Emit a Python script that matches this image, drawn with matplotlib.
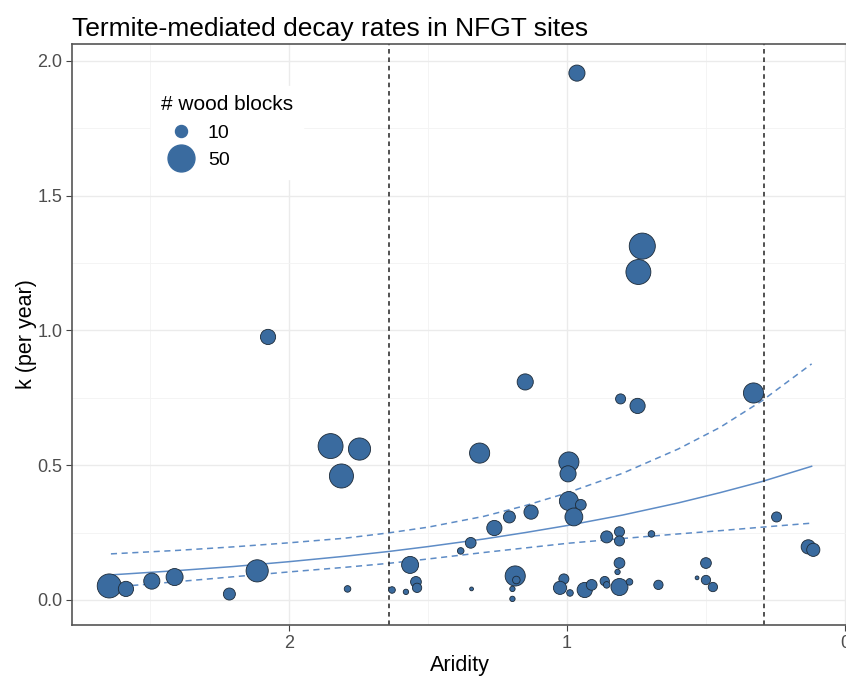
import matplotlib
matplotlib.use("Agg")
import matplotlib.pyplot as plt
from matplotlib.lines import Line2D
import matplotlib.ticker as ticker

plt.rcParams['font.family'] = ['Liberation Sans', 'DejaVu Sans']

# site data: aridity, decay rate k (per year), number of wood blocks
aridity = [0.964, 0.729, 0.743, 2.075, 1.150, 0.807, 0.746, 0.329, 1.850, 1.746,
           1.811, 1.314, 0.993, 0.996, 0.993, 0.950, 0.975, 1.129, 1.207, 1.261,
           1.346, 1.382, 1.564, 1.543, 1.539, 1.629, 1.579, 1.343, 1.186, 1.182,
           1.196, 1.196, 1.011, 1.025, 0.989, 0.936, 0.911, 0.864, 0.857, 0.811,
           0.775, 0.857, 0.811, 0.811, 0.696, 0.811, 0.818, 0.671, 0.500, 0.500,
           0.475, 0.532, 0.246, 0.132, 0.114, 2.646, 2.586, 2.493, 2.411, 2.214,
           2.114, 1.789]
k_rate = [1.955, 1.313, 1.217, 0.976, 0.809, 0.746, 0.720, 0.768, 0.571, 0.560,
          0.460, 0.545, 0.512, 0.468, 0.367, 0.353, 0.308, 0.326, 0.308, 0.267,
          0.212, 0.182, 0.130, 0.067, 0.045, 0.037, 0.030, 0.041, 0.089, 0.074,
          0.041, 0.004, 0.078, 0.045, 0.026, 0.037, 0.056, 0.070, 0.056, 0.048,
          0.067, 0.234, 0.253, 0.219, 0.245, 0.137, 0.104, 0.056, 0.137, 0.074,
          0.048, 0.082, 0.308, 0.197, 0.186, 0.052, 0.041, 0.070, 0.085, 0.022,
          0.108, 0.041]
n_blocks = [18, 47, 43, 16, 18, 7, 16, 28, 43, 34,
            40, 28, 28, 18, 25, 8, 22, 14, 10, 16,
            8, 3, 20, 8, 6, 3, 2, 1, 28, 4,
            2, 2, 7, 12, 3, 16, 8, 6, 3, 20,
            3, 10, 7, 7, 3, 8, 2, 6, 8, 6,
            6, 1, 7, 14, 12, 40, 16, 18, 20, 10,
            34, 3]

# fitted model and confidence band
fit_x = [2.64, 2.4, 2.2, 2.0, 1.8, 1.64, 1.5, 1.3, 1.15, 1.0, 0.8, 0.6, 0.45, 0.3, 0.12]
fit_k = [0.093, 0.109, 0.124, 0.142, 0.162, 0.180, 0.198, 0.226, 0.250, 0.276,
         0.315, 0.360, 0.398, 0.439, 0.496]
upper_k = [0.171, 0.184, 0.197, 0.212, 0.229, 0.249, 0.270, 0.310, 0.350, 0.397,
           0.470, 0.560, 0.640, 0.738, 0.876]
lower_k = [0.047, 0.068, 0.086, 0.104, 0.121, 0.136, 0.152, 0.176, 0.193, 0.210,
           0.228, 0.245, 0.257, 0.270, 0.285]

cutoffs = [1.639, 0.293]
legend_sizes = [10, 50]

size_scale = 7.5
fill = "#3a6b9f"
edge = "#1c2a38"
line_col = "#5e8cc6"

fig = plt.figure(figsize=(8.46, 6.79), dpi=100)
ax = fig.add_axes([0.0851, 0.0795, 0.916, 0.8557])

ax.scatter(aridity, k_rate, s=[n * size_scale for n in n_blocks], c=fill,
           edgecolors=edge, linewidths=0.6, zorder=3)

ax.plot(fit_x, fit_k, color=line_col, lw=1.1, zorder=2)
ax.plot(fit_x, upper_k, color=line_col, lw=1.1, ls=(0, (4, 3)), zorder=2)
ax.plot(fit_x, lower_k, color=line_col, lw=1.1, ls=(0, (4, 3)), zorder=2)

for c in cutoffs:
    ax.axvline(c, color="#222222", lw=1.1, ls=(0, (3, 2.5)), zorder=2)

ax.set_xlim(2.78, -0.007)
ax.set_ylim(-0.093, 2.063)
ax.xaxis.set_major_locator(ticker.FixedLocator([2, 1, 0]))
ax.xaxis.set_major_formatter(ticker.FuncFormatter(lambda x, p: f"{x:g}"))
ax.xaxis.set_minor_locator(ticker.FixedLocator([2.5, 1.5, 0.5]))
ax.yaxis.set_major_locator(ticker.MultipleLocator(0.5))
ax.yaxis.set_major_formatter(ticker.FormatStrFormatter("%.1f"))
ax.yaxis.set_minor_locator(ticker.MultipleLocator(0.25))

ax.grid(which="major", color="#ebebeb", lw=1.0, zorder=0)
ax.grid(which="minor", color="#f3f3f3", lw=0.6, zorder=0)
ax.set_axisbelow(True)
for s in ax.spines.values():
    s.set_color("#555555")
    s.set_linewidth(1.2)
ax.tick_params(which="major", length=4, color="#444444", labelsize=13,
               labelcolor="#4d4d4d", pad=3)
ax.tick_params(which="minor", length=0)

ax.set_xlabel("Aridity", fontsize=15.5, labelpad=2)
ax.set_ylabel("k (per year)", fontsize=15.5, labelpad=0)
fig.text(0.085, 0.957, "Termite-mediated decay rates in NFGT sites", fontsize=19,
         va="center")

handles = [Line2D([], [], ls="", marker="o", markersize=(n * size_scale) ** 0.5,
                  markerfacecolor=fill, markeredgecolor=fill) for n in legend_sizes]
leg = ax.legend(handles, [str(n) for n in legend_sizes], title="# wood blocks",
                loc="upper left", bbox_to_anchor=(0.09, 0.945), frameon=True,
                fontsize=14, title_fontsize=15, handletextpad=0.4,
                labelspacing=0.5, borderpad=0.5)
leg.get_frame().set_edgecolor("white")
leg.get_frame().set_facecolor("white")
leg.get_frame().set_alpha(1)
leg._legend_box.align = "left"

fig.savefig("out.png", dpi=100)
